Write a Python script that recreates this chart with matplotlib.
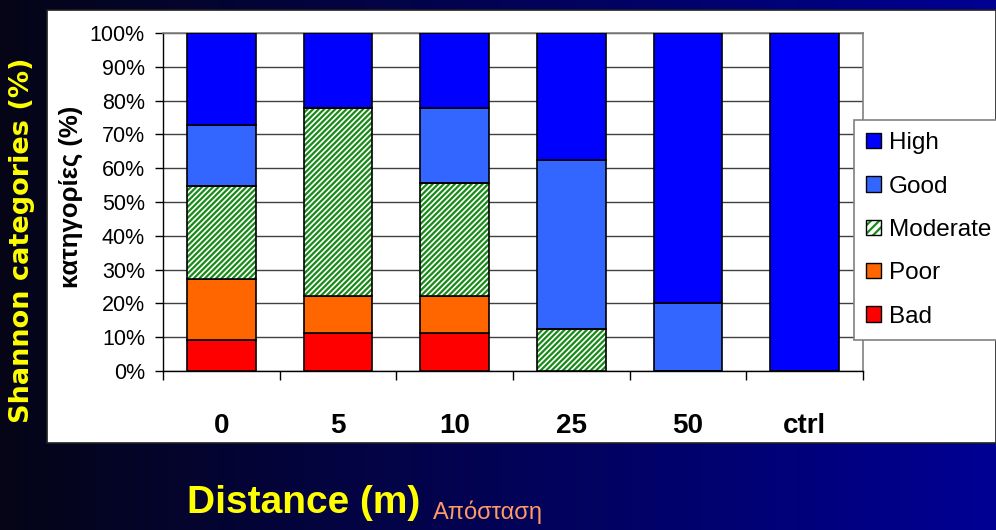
import numpy as np
import matplotlib
matplotlib.use("Agg")
import matplotlib.pyplot as plt
from matplotlib.patches import Rectangle, Patch
from matplotlib.legend_handler import HandlerTuple

distances = ["0", "5", "10", "25", "50", "ctrl"]
# share of stations in each Shannon class, per distance (%)
bad = [9.1, 11.1, 11.1, 0.0, 0.0, 0.0]
poor = [18.2, 11.1, 11.1, 0.0, 0.0, 0.0]
moderate = [27.3, 55.6, 33.3, 12.5, 0.0, 0.0]
good = [18.2, 0.0, 22.2, 50.0, 20.0, 0.0]
high = [27.3, 22.2, 22.2, 37.5, 80.0, 100.0]
y_ticks = list(range(0, 101, 10))

C_HIGH, C_GOOD, C_POOR, C_BAD = "#0000FF", "#3366FF", "#FF6600", "#FF0000"
C_MOD = "#178A17"
SANS = ["Liberation Sans", "DejaVu Sans"]

plt.rcParams["hatch.linewidth"] = 1.6

W, H = 996, 530
fig = plt.figure(figsize=(W / 100, H / 100), dpi=100)

# navy gradient backdrop
bg = fig.add_axes([0, 0, 1, 1], zorder=-10)
t = np.linspace(0, 1, 256)
grad = np.zeros((1, 256, 3))
grad[0, :, 0] = 0.02 * (1 - t)
grad[0, :, 1] = 0.02 * (1 - t)
grad[0, :, 2] = 0.09 + 0.49 * t
bg.imshow(grad, aspect="auto", extent=[0, 1, 0, 1])
bg.set_axis_off()

# white panel behind the chart
fig.patches.append(Rectangle((47 / W, 1 - 443 / H), 1 - 47 / W, 433 / H,
                             transform=fig.transFigure, facecolor="white",
                             edgecolor="#202020", lw=1.2, zorder=-5))

ax = fig.add_axes([163 / W, 1 - 371 / H, 700 / W, 338 / H])
ax.set_facecolor("white")
x = np.arange(len(distances))
bw = 0.59
kw = dict(width=bw, edgecolor="black", linewidth=1.2, zorder=3)

b0 = np.zeros(len(x))
ax.bar(x, bad, bottom=b0, color=C_BAD, **kw)
b1 = b0 + np.array(bad)
ax.bar(x, poor, bottom=b1, color=C_POOR, **kw)
b2 = b1 + np.array(poor)
ax.bar(x, moderate, bottom=b2, width=bw, color="white", edgecolor=C_MOD,
       hatch="//////", linewidth=0, zorder=3)
ax.bar(x, moderate, bottom=b2, width=bw, fill=False, edgecolor="black",
       linewidth=1.2, zorder=4)
b3 = b2 + np.array(moderate)
ax.bar(x, good, bottom=b3, color=C_GOOD, **kw)
b4 = b3 + np.array(good)
ax.bar(x, high, bottom=b4, color=C_HIGH, **kw)

ax.set_xlim(-0.5, len(x) - 0.5)
ax.set_ylim(0, 100)
ax.set_yticks(y_ticks)
ax.set_yticklabels([f"{v}%" for v in y_ticks], family=SANS, fontsize=15.5)
ax.tick_params(axis="y", direction="out", length=6, width=1, pad=7)
ax.yaxis.grid(True, color="#404040", lw=1)
ax.set_axisbelow(True)

ax.set_xticks(x)
ax.set_xticklabels(distances, family=SANS, fontsize=20, fontweight="bold")
ax.set_xticks(np.arange(-0.5, len(x), 1), minor=True)
ax.tick_params(axis="x", which="major", length=0, pad=30)
ax.tick_params(axis="x", which="minor", direction="out", length=6.5, width=1)

for s in ("left", "bottom"):
    ax.spines[s].set_color("black")
    ax.spines[s].set_linewidth(1)
for s in ("top", "right"):
    ax.spines[s].set_color("#808080")
    ax.spines[s].set_linewidth(1.2)

handles = [
    Patch(facecolor=C_HIGH, edgecolor="black", lw=1),
    Patch(facecolor=C_GOOD, edgecolor="black", lw=1),
    (Patch(facecolor="white", edgecolor=C_MOD, hatch="////", lw=0),
     Patch(fill=False, edgecolor="black", lw=1)),
    Patch(facecolor=C_POOR, edgecolor="black", lw=1),
    Patch(facecolor=C_BAD, edgecolor="black", lw=1),
]
labels = ["High", "Good", "Moderate", "Poor", "Bad"]
leg = fig.legend(handles, labels, loc="upper left",
                 bbox_to_anchor=(854 / W, 1 - 120 / H),
                 bbox_transform=fig.transFigure, frameon=True, fancybox=False,
                 framealpha=1, edgecolor="#808080", borderaxespad=0,
                 borderpad=0.5, handlelength=0.6, handleheight=0.6,
                 handletextpad=0.35, labelspacing=0.88,
                 prop={"family": SANS, "size": 17.5},
                 handler_map={tuple: HandlerTuple(ndivide=1, pad=0)})
leg.get_frame().set_linewidth(1.2)

fig.text(22 / W, 1 - 240 / H, "Shannon categories (%)", rotation=90,
         color="#FFFF00", fontsize=19.5, fontweight="bold", family="DejaVu Sans",
         ha="center", va="center")
fig.text(71 / W, 1 - 197 / H, "κατηγορίες (%)", rotation=90, color="black",
         fontsize=18.5, fontweight="bold", family=SANS, ha="center", va="center")
fig.text(304 / W, 1 - 503 / H, "Distance (m)", color="#FFFF00", fontsize=28,
         fontweight="bold", family=SANS, ha="center", va="center")
fig.text(433 / W, 1 - 512 / H, "Απόσταση", color="#FF9966", fontsize=17,
         family=SANS, ha="left", va="center")

fig.savefig("out.png", dpi=100)
